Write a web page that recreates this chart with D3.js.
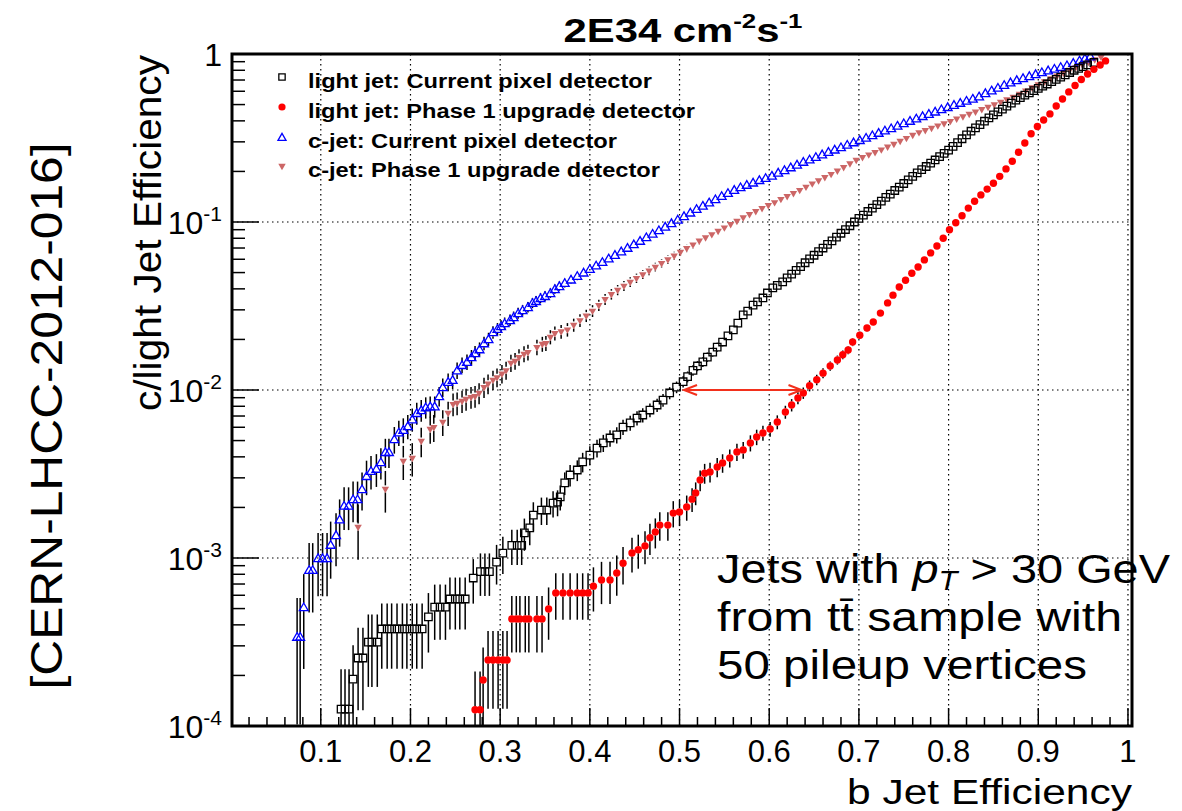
<!DOCTYPE html>
<html>
<head>
<meta charset="utf-8">
<script src="https://cdn.jsdelivr.net/npm/d3@7"></script>
<style>
  body { margin: 0; background: #fff; }
  text { font-family: "Liberation Sans", Arial, Helvetica, sans-serif; }
</style>
</head>
<body>
<script>
// b-efficiency vs mistag efficiency
const lightCurrent = [
  [0.1226,1.26e-4],[0.127,1.26e-4],[0.1315,1.26e-4],[0.136,1.9e-4],[0.1416,2.54e-4],[0.147,2.54e-4],
  [0.153,3.16e-4],[0.157,3.16e-4],[0.163,3.16e-4],[0.168,3.78e-4],[0.174,3.78e-4],[0.179,3.78e-4],
  [0.185,3.78e-4],[0.191,3.78e-4],[0.196,3.78e-4],[0.202,3.78e-4],[0.207,3.78e-4],[0.213,3.78e-4],
  [0.220,4.46e-4],[0.227,5.1e-4],[0.233,5.1e-4],[0.239,5.1e-4],[0.244,5.7e-4],[0.250,5.7e-4],
  [0.255,5.7e-4],[0.261,5.7e-4],[0.270,7.6e-4],[0.278,8.3e-4],[0.283,8.3e-4],[0.288,8.3e-4],
  [0.296,9.46e-4],[0.303,1.07e-3],[0.313,1.19e-3],[0.319,1.19e-3],[0.324,1.19e-3],[0.327,1.41e-3],
  [0.333,1.51e-3],[0.337,1.8e-3],[0.346,1.93e-3],[0.352,1.93e-3],[0.359,2.12e-3],[0.364,2.15e-3],
  [0.367,2.31e-3],[0.372,2.8e-3],[0.378,3.12e-3],[0.386,3.34e-3],[0.392,3.73e-3],[0.400,4.1e-3],
  [0.408,4.51e-3],[0.415,4.84e-3],[0.4225,5.18e-3],[0.430,5.4e-3],[0.437,6.02e-3],[0.445,6.37e-3],
  [0.4526,6.81e-3],[0.459,7.1e-3],[0.467,7.6e-3],[0.475,8.14e-3],[0.4816,8.7e-3],[0.489,9.6e-3],
  [0.4967,1.04e-2],[0.504,1.12e-2],[0.509,1.2e-2],[0.515,1.31e-2],[0.520,1.39e-2],[0.526,1.47e-2],
  [0.531,1.57e-2],[0.537,1.68e-2],[0.542,1.8e-2],[0.548,1.93e-2],[0.554,2.1e-2],[0.560,2.28e-2],
  [0.565,2.5e-2],[0.571,2.8e-2],[0.576,2.95e-2],[0.582,3.2e-2],[0.587,3.35e-2],[0.593,3.53e-2],
  [0.598,3.78e-2],[0.604,4.05e-2],[0.609,4.2e-2],[0.615,4.4e-2],[0.620,4.65e-2],[0.625,0.049],
  [0.630,0.0515],[0.635,0.0543],[0.640,0.0572],[0.645,0.0603],[0.650,0.0634],[0.655,0.0667],
  [0.660,0.07],[0.665,0.0735],[0.670,0.0773],[0.675,0.0813],[0.680,0.0857],[0.685,0.0902],
  [0.690,0.095],[0.695,0.100],[0.700,0.105],[0.705,0.110],[0.710,0.1155],[0.715,0.121],
  [0.720,0.127],[0.725,0.133],[0.730,0.14],[0.735,0.1466],[0.740,0.154],[0.745,0.1614],
  [0.750,0.1695],[0.755,0.178],[0.760,0.187],[0.765,0.196],[0.770,0.205],[0.775,0.214],
  [0.780,0.224],[0.785,0.234],[0.790,0.245],[0.795,0.256],[0.800,0.268],[0.805,0.282],
  [0.810,0.297],[0.815,0.313],[0.820,0.33],[0.825,0.347],[0.830,0.363],[0.835,0.38],
  [0.840,0.398],[0.845,0.417],[0.850,0.434],[0.855,0.452],[0.860,0.47],[0.865,0.49],
  [0.870,0.51],[0.875,0.531],[0.880,0.55],[0.885,0.569],[0.890,0.587],[0.895,0.605],
  [0.900,0.624],[0.905,0.643],[0.910,0.663],[0.915,0.684],[0.920,0.706],[0.925,0.728],
  [0.930,0.752],[0.935,0.776],[0.940,0.8],[0.945,0.822],[0.950,0.842],[0.955,0.861],
  [0.962,0.89]
];

const lightPhase1 = [
  [0.272,1.25e-4],[0.2776,1.25e-4],[0.281,1.88e-4],[0.2865,2.47e-4],[0.292,2.47e-4],[0.2977,2.47e-4],
  [0.303,2.47e-4],[0.3077,2.47e-4],[0.313,4.34e-4],[0.318,4.34e-4],[0.322,4.34e-4],[0.328,4.34e-4],
  [0.332,4.34e-4],[0.341,4.34e-4],[0.3467,4.34e-4],[0.354,4.97e-4],[0.362,6.2e-4],[0.370,6.2e-4],
  [0.378,6.2e-4],[0.386,6.2e-4],[0.392,6.2e-4],[0.398,6.2e-4],[0.404,6.8e-4],[0.413,7.4e-4],
  [0.4225,7.4e-4],[0.430,8.15e-4],[0.437,9.3e-4],[0.447,1.07e-3],[0.454,1.12e-3],[0.4615,1.18e-3],
  [0.467,1.32e-3],[0.473,1.43e-3],[0.478,1.57e-3],[0.487,1.57e-3],[0.493,1.85e-3],[0.500,1.88e-3],
  [0.508,2.01e-3],[0.514,2.24e-3],[0.518,2.44e-3],[0.523,2.91e-3],[0.528,3.2e-3],[0.534,3.25e-3],
  [0.542,3.48e-3],[0.548,3.68e-3],[0.556,3.94e-3],[0.564,4.28e-3],[0.571,4.4e-3],[0.579,4.84e-3],
  [0.586,5.25e-3],[0.593,5.55e-3],[0.601,5.86e-3],[0.609,6.45e-3],[0.618,7.4e-3],[0.625,8.14e-3],
  [0.632,8.96e-3],[0.638,9.6e-3],[0.645,1.06e-2],[0.653,1.15e-2],[0.660,1.26e-2],[0.668,1.39e-2],
  [0.676,1.51e-2],[0.682,1.62e-2],[0.688,1.73e-2],[0.693,1.93e-2],[0.701,2.12e-2],[0.709,2.34e-2],
  [0.716,2.54e-2],[0.724,2.87e-2],[0.732,3.3e-2],[0.738,3.67e-2],[0.745,4.1e-2],[0.752,4.5e-2],
  [0.759,4.95e-2],[0.766,5.4e-2],[0.773,5.95e-2],[0.780,6.55e-2],[0.787,7.2e-2],[0.794,8.0e-2],
  [0.801,9.0e-2],[0.808,0.099],[0.815,0.109],[0.822,0.121],[0.829,0.133],[0.836,0.145],
  [0.843,0.157],[0.850,0.17],[0.857,0.187],[0.864,0.207],[0.871,0.23],[0.878,0.26],
  [0.885,0.295],[0.892,0.335],[0.899,0.37],[0.906,0.405],[0.913,0.44],[0.920,0.49],
  [0.927,0.54],[0.934,0.595],[0.941,0.65],[0.948,0.705],[0.955,0.76],[0.962,0.81],
  [0.969,0.86],[0.975,0.91]
];

const cCurrent = [
  [0.0736,3.4e-4],[0.077,3.4e-4],[0.081,5.1e-4],[0.087,8.5e-4],[0.091,8.5e-4],[0.097,1.0e-3],
  [0.102,1.0e-3],[0.107,1.0e-3],[0.111,1.2e-3],[0.117,1.37e-3],[0.121,1.7e-3],[0.126,2.05e-3],
  [0.131,2.05e-3],[0.136,2.24e-3],[0.141,2.24e-3],[0.146,2.57e-3],[0.151,3.08e-3],[0.156,3.3e-3],
  [0.162,3.4e-3],[0.167,3.72e-3],[0.172,4.28e-3],[0.176,4.28e-3],[0.182,5.1e-3],[0.187,5.6e-3],
  [0.192,5.8e-3],[0.197,6.1e-3],[0.202,6.7e-3],[0.207,7.3e-3],[0.212,7.6e-3],[0.217,7.9e-3],
  [0.222,8.0e-3],[0.227,8.0e-3],[0.232,9.2e-3],[0.236,1.04e-2],[0.242,1.12e-2],[0.247,1.15e-2],
  [0.252,1.31e-2],[0.2575,1.41e-2],[0.263,1.47e-2],[0.268,1.57e-2],[0.272,1.66e-2],[0.277,1.75e-2],
  [0.282,1.9e-2],[0.287,2.01e-2],[0.292,2.21e-2],[0.297,2.31e-2],[0.301,2.40e-2],[0.305,2.5e-2],
  [0.311,2.61e-2],[0.315,2.72e-2],[0.320,2.87e-2],[0.325,2.99e-2],[0.331,3.12e-2],[0.336,3.3e-2],
  [0.340,3.39e-2],[0.345,3.53e-2],[0.350,3.63e-2],[0.356,3.78e-2],[0.361,3.99e-2],[0.366,4.16e-2],
  [0.372,0.0434],[0.379,0.0455],[0.386,0.0478],[0.393,0.0501],[0.400,0.0526],[0.407,0.0552],
  [0.414,0.0579],[0.421,0.0608],[0.428,0.0638],[0.435,0.067],[0.442,0.0703],[0.449,0.0738],
  [0.456,0.0774],[0.463,0.0813],[0.470,0.0853],[0.477,0.0895],[0.484,0.094],[0.491,0.0986],
  [0.498,0.1035],[0.505,0.1086],[0.512,0.114],[0.519,0.1197],[0.526,0.1253],[0.533,0.131],
  [0.540,0.1368],[0.547,0.143],[0.554,0.149],[0.561,0.1556],[0.568,0.1614],[0.575,0.1667],
  [0.582,0.172],[0.589,0.178],[0.596,0.183],[0.603,0.189],[0.610,0.197],[0.617,0.204],
  [0.624,0.212],[0.631,0.220],[0.638,0.2286],[0.645,0.236],[0.652,0.2443],[0.659,0.253],
  [0.666,0.262],[0.673,0.2704],[0.680,0.279],[0.687,0.289],[0.694,0.2985],[0.701,0.308],
  [0.708,0.318],[0.715,0.329],[0.722,0.34],[0.729,0.351],[0.736,0.362],[0.743,0.375],
  [0.750,0.388],[0.757,0.401],[0.764,0.414],[0.771,0.428],[0.778,0.441],[0.785,0.455],
  [0.792,0.47],[0.799,0.484],[0.806,0.499],[0.813,0.513],[0.820,0.528],[0.827,0.543],
  [0.834,0.56],[0.841,0.586],[0.848,0.608],[0.855,0.631],[0.862,0.655],[0.869,0.679],
  [0.876,0.70],[0.883,0.72],[0.890,0.74],[0.897,0.76],[0.904,0.78],[0.911,0.80],
  [0.918,0.818],[0.925,0.838],[0.932,0.859],[0.939,0.887],[0.946,0.916],[0.952,0.942],
  [0.958,0.97]
];

const cPhase1 = [
  [0.1416,1.53e-3],[0.172,2.58e-3],[0.192,3.78e-3],[0.202,3.94e-3],[0.212,4.97e-3],[0.222,5.86e-3],
  [0.226,6.0e-3],[0.236,6.45e-3],[0.242,7.3e-3],[0.2475,8.25e-3],[0.252,8.37e-3],[0.2575,8.6e-3],
  [0.262,8.84e-3],[0.2675,9.08e-3],[0.272,9.2e-3],[0.2765,9.6e-3],[0.282,1.04e-2],[0.2865,1.09e-2],
  [0.292,1.15e-2],[0.2965,1.19e-2],[0.302,1.25e-2],[0.3066,1.31e-2],[0.312,1.45e-2],[0.3166,1.49e-2],
  [0.321,1.57e-2],[0.3266,1.64e-2],[0.331,1.68e-2],[0.341,1.8e-2],[0.347,1.88e-2],[0.351,1.9e-2],
  [0.356,2.07e-2],[0.361,2.18e-2],[0.368,0.0223],[0.375,0.0229],[0.382,0.0244],[0.389,0.026],
  [0.396,0.0277],[0.403,0.0296],[0.410,0.032],[0.417,0.0347],[0.424,0.0372],[0.431,0.0394],
  [0.438,0.0417],[0.445,0.044],[0.452,0.0463],[0.459,0.0488],[0.466,0.0513],[0.473,0.054],
  [0.480,0.0569],[0.487,0.0598],[0.494,0.063],[0.501,0.0664],[0.508,0.0698],[0.515,0.0734],
  [0.522,0.0774],[0.529,0.0809],[0.536,0.0845],[0.543,0.0885],[0.550,0.0927],[0.557,0.097],
  [0.564,0.1016],[0.571,0.1064],[0.578,0.1112],[0.585,0.116],[0.592,0.121],[0.599,0.126],
  [0.606,0.131],[0.613,0.137],[0.620,0.1426],[0.627,0.1486],[0.634,0.155],[0.641,0.162],
  [0.648,0.1694],[0.655,0.177],[0.662,0.185],[0.669,0.193],[0.676,0.2023],[0.683,0.212],
  [0.690,0.223],[0.697,0.234],[0.704,0.243],[0.711,0.252],[0.718,0.2606],[0.725,0.27],
  [0.732,0.2805],[0.739,0.2917],[0.746,0.304],[0.753,0.316],[0.760,0.33],[0.767,0.342],
  [0.774,0.352],[0.781,0.363],[0.788,0.375],[0.795,0.386],[0.802,0.399],[0.809,0.412],
  [0.816,0.4256],[0.823,0.44],[0.830,0.454],[0.837,0.469],[0.844,0.484],[0.851,0.501],
  [0.858,0.519],[0.865,0.537],[0.872,0.555],[0.879,0.579],[0.886,0.605],[0.893,0.632],
  [0.900,0.659],[0.907,0.687],[0.914,0.715],[0.921,0.743],[0.928,0.773],[0.935,0.804],
  [0.942,0.836],[0.949,0.867],[0.956,0.897],[0.963,0.929],[0.970,0.962]
];

// approximate jet counts behind each curve (sets the binomial error bars)
const sampleSize = {lightCurrent: 15000, lightPhase1: 17000, cCurrent: 6000, cPhase1: 5000};

const xTicks = [0.1, 0.2, 0.3, 0.4, 0.5, 0.6, 0.7, 0.8, 0.9, 1];
const xTickLabels = ["0.1", "0.2", "0.3", "0.4", "0.5", "0.6", "0.7", "0.8", "0.9", "1"];
const yDecades = [1e-4, 1e-3, 1e-2, 1e-1, 1];
const yExponents = ["-4", "-3", "-2", "-1", ""];
const legendLabels = [
  "light jet: Current pixel detector",
  "light jet: Phase 1 upgrade detector",
  "c-jet: Current pixel detector",
  "c-jet: Phase 1 upgrade detector"
];
const arrowSpan = [0.505, 0.636];
const arrowLevel = 1e-2;

window.onload = () => {
    const width = 1182, height = 811;
    const frame = {left: 232, right: 1132, top: 54, bottom: 726};

    var x = d3.scaleLinear().domain([0.001, 1.0045]).range([frame.left, frame.right]);
    var y = d3.scaleLog().domain([1e-4, 1]).range([frame.bottom, frame.top]);

    var svg = d3.select("body").append("svg")
        .attr("width", width)
        .attr("height", height);

    svg.append("defs").append("clipPath")
        .attr("id", "plotclip")
        .append("rect")
        .attr("x", frame.left).attr("y", frame.top)
        .attr("width", frame.right - frame.left)
        .attr("height", frame.bottom - frame.top);

    // dotted grid
    svg.selectAll("line.vgrid")
        .data(xTicks)
        .enter().append("line")
        .attr("class", "vgrid")
        .attr("x1", d => x(d)).attr("x2", d => x(d))
        .attr("y1", frame.top).attr("y2", frame.bottom)
        .attr("stroke", "#000").attr("stroke-width", 1.2)
        .attr("stroke-dasharray", "1.5,3.5");

    svg.selectAll("line.hgrid")
        .data(yDecades.slice(1, 4))
        .enter().append("line")
        .attr("class", "hgrid")
        .attr("x1", frame.left).attr("x2", frame.right)
        .attr("y1", d => y(d)).attr("y2", d => y(d))
        .attr("stroke", "#000").attr("stroke-width", 1.2)
        .attr("stroke-dasharray", "1.5,3.5");

    // ticks
    const xMinor = d3.range(1, 51).map(i => i * 0.02);
    svg.selectAll("line.xtick")
        .data(xMinor)
        .enter().append("line")
        .attr("class", "xtick")
        .attr("x1", d => x(d)).attr("x2", d => x(d))
        .attr("y1", frame.bottom)
        .attr("y2", (d, i) => frame.bottom - ((i + 1) % 5 === 0 ? 18 : 9))
        .attr("stroke", "#000").attr("stroke-width", 1.5);

    const yMinor = [];
    [1e-4, 1e-3, 1e-2, 1e-1].forEach(dec => {
        for (let k = 2; k <= 9; k++) yMinor.push(dec * k);
    });
    svg.selectAll("line.ytick")
        .data(yMinor)
        .enter().append("line")
        .attr("class", "ytick")
        .attr("x1", frame.left).attr("x2", frame.left + 13)
        .attr("y1", d => y(d)).attr("y2", d => y(d))
        .attr("stroke", "#000").attr("stroke-width", 1.5);
    svg.selectAll("line.ymajor")
        .data(yDecades)
        .enter().append("line")
        .attr("class", "ymajor")
        .attr("x1", frame.left).attr("x2", frame.left + 27)
        .attr("y1", d => y(d)).attr("y2", d => y(d))
        .attr("stroke", "#000").attr("stroke-width", 1.5);

    // tick labels
    svg.selectAll("text.xlab")
        .data(xTicks)
        .enter().append("text")
        .attr("class", "xlab")
        .attr("x", d => x(d))
        .attr("y", 762)
        .attr("text-anchor", "middle")
        .attr("font-size", 31)
        .text((d, i) => xTickLabels[i]);

    var ylab = svg.selectAll("text.ylab")
        .data(yDecades)
        .enter().append("text")
        .attr("class", "ylab")
        .attr("x", 222)
        .attr("y", d => y(d) + 12)
        .attr("text-anchor", "end")
        .attr("font-size", 32);
    ylab.append("tspan").text(d => d === 1 ? "1" : "10");
    ylab.append("tspan")
        .attr("font-size", 21)
        .attr("dy", -13)
        .text((d, i) => yExponents[i]);

    // error bars + markers
    const plot = svg.append("g").attr("clip-path", "url(#plotclip)");

    function errorBars(data, N, gap) {
        const bars = data.map(([bx, by]) => {
            const e = Math.sqrt(by * (1 - by) / N);
            const yc = y(by);
            const yt = y(by + e);
            const yb = by - e > 1e-6 ? y(by - e) : frame.bottom + 20;
            return {px: x(bx), yc: yc, yt: yt, yb: yb};
        });
        plot.selectAll(null)
            .data(bars.filter(b => b.yc - b.yt > gap))
            .enter().append("line")
            .attr("x1", b => b.px).attr("x2", b => b.px)
            .attr("y1", b => b.yc - gap).attr("y2", b => b.yt)
            .attr("stroke", "#000").attr("stroke-width", 1.5);
        plot.selectAll(null)
            .data(bars.filter(b => b.yb - b.yc > gap))
            .enter().append("line")
            .attr("x1", b => b.px).attr("x2", b => b.px)
            .attr("y1", b => b.yc + gap).attr("y2", b => b.yb)
            .attr("stroke", "#000").attr("stroke-width", 1.5);
    }

    errorBars(lightCurrent, sampleSize.lightCurrent, 4);
    errorBars(lightPhase1, sampleSize.lightPhase1, 3.5);
    errorBars(cCurrent, sampleSize.cCurrent, 4);
    errorBars(cPhase1, sampleSize.cPhase1, 3.5);

    const squareSym = d3.symbol().type(d3.symbolSquare).size(56);
    const triSym = d3.symbol().type(d3.symbolTriangle).size(34);
    const downSym = d3.symbol().type(d3.symbolTriangle).size(24);

    plot.selectAll("path.pinkTri")
        .data(cPhase1)
        .enter().append("path")
        .attr("d", downSym)
        .attr("transform", d => "translate(" + x(d[0]) + "," + y(d[1]) + ") rotate(180)")
        .attr("fill", "#cc6666");

    plot.selectAll("path.blueTri")
        .data(cCurrent)
        .enter().append("path")
        .attr("d", triSym)
        .attr("transform", d => "translate(" + x(d[0]) + "," + (y(d[1]) + 1) + ")")
        .attr("fill", "none")
        .attr("stroke", "#0000ff")
        .attr("stroke-width", 1.3);

    plot.selectAll("path.blackSq")
        .data(lightCurrent)
        .enter().append("path")
        .attr("d", squareSym)
        .attr("transform", d => "translate(" + x(d[0]) + "," + y(d[1]) + ")")
        .attr("fill", "none")
        .attr("stroke", "#000")
        .attr("stroke-width", 1.3);

    plot.selectAll("circle.red")
        .data(lightPhase1)
        .enter().append("circle")
        .attr("cx", d => x(d[0]))
        .attr("cy", d => y(d[1]))
        .attr("r", 3.7)
        .attr("fill", "#ff0000");

    // frame
    svg.append("rect")
        .attr("x", frame.left).attr("y", frame.top)
        .attr("width", frame.right - frame.left)
        .attr("height", frame.bottom - frame.top)
        .attr("fill", "none")
        .attr("stroke", "#000")
        .attr("stroke-width", 3);

    // arrow between the two light-jet curves
    const ax1 = x(arrowSpan[0]), ax2 = x(arrowSpan[1]), ay = y(arrowLevel);
    const arrowCol = "#f2301c";
    svg.append("line")
        .attr("x1", ax1).attr("x2", ax2)
        .attr("y1", ay).attr("y2", ay)
        .attr("stroke", arrowCol).attr("stroke-width", 2);
    svg.append("polyline")
        .attr("points", [[ax1 + 13, ay - 5], [ax1, ay], [ax1 + 13, ay + 5]].join(" "))
        .attr("fill", "none").attr("stroke", arrowCol).attr("stroke-width", 2);
    svg.append("polyline")
        .attr("points", [[ax2 - 13, ay - 5], [ax2, ay], [ax2 - 13, ay + 5]].join(" "))
        .attr("fill", "none").attr("stroke", arrowCol).attr("stroke-width", 2);

    // legend
    const legendY = [77, 107, 137, 166];
    svg.append("path")
        .attr("d", squareSym.size(40)())
        .attr("transform", "translate(282," + legendY[0] + ")")
        .attr("fill", "none").attr("stroke", "#000").attr("stroke-width", 1.3);
    svg.append("circle")
        .attr("cx", 282).attr("cy", legendY[1]).attr("r", 3.6)
        .attr("fill", "#ff0000");
    svg.append("path")
        .attr("d", triSym.size(28)())
        .attr("transform", "translate(282," + (legendY[2] + 1) + ")")
        .attr("fill", "none").attr("stroke", "#0000ff").attr("stroke-width", 1.3);
    svg.append("path")
        .attr("d", downSym())
        .attr("transform", "translate(282," + legendY[3] + ") rotate(180)")
        .attr("fill", "#cc6666");

    const legendWidths = [344, 387, 309, 352];
    svg.selectAll("text.leg")
        .data(legendLabels)
        .enter().append("text")
        .attr("class", "leg")
        .attr("x", 308)
        .attr("y", (d, i) => legendY[i] + 11)
        .attr("font-size", 20)
        .attr("font-weight", "bold")
        .attr("textLength", (d, i) => legendWidths[i])
        .attr("lengthAdjust", "spacingAndGlyphs")
        .text(d => d);

    // title
    var title = svg.append("text")
        .attr("x", 683)
        .attr("y", 42)
        .attr("text-anchor", "middle")
        .attr("font-size", 34)
        .attr("font-weight", "bold")
        .attr("textLength", 239)
        .attr("lengthAdjust", "spacingAndGlyphs");
    title.append("tspan").text("2E34 cm");
    title.append("tspan").attr("font-size", 21).attr("dy", -14).text("-2");
    title.append("tspan").attr("dy", 14).text("s");
    title.append("tspan").attr("font-size", 21).attr("dy", -14).text("-1");

    // axis titles
    svg.append("text")
        .attr("x", 1132)
        .attr("y", 804)
        .attr("text-anchor", "end")
        .attr("font-size", 35)
        .attr("textLength", 285)
        .attr("lengthAdjust", "spacingAndGlyphs")
        .text("b Jet Efficiency");

    svg.append("text")
        .attr("transform", "translate(161,55) rotate(-90)")
        .attr("text-anchor", "end")
        .attr("font-size", 39)
        .attr("textLength", 356)
        .attr("lengthAdjust", "spacingAndGlyphs")
        .text("c/light Jet Efficiency");

    svg.append("text")
        .attr("transform", "translate(62,416) rotate(-90)")
        .attr("text-anchor", "middle")
        .attr("font-size", 44)
        .attr("textLength", 547)
        .attr("lengthAdjust", "spacingAndGlyphs")
        .text("[CERN-LHCC-2012-016]");

    // annotation
    var note1 = svg.append("text")
        .attr("x", 717).attr("y", 583)
        .attr("font-size", 41)
        .attr("textLength", 453)
        .attr("lengthAdjust", "spacingAndGlyphs");
    note1.append("tspan").text("Jets with ");
    note1.append("tspan").attr("font-style", "italic").text("p");
    note1.append("tspan").attr("font-style", "italic").attr("font-size", 27).attr("dy", 7).text("T");
    note1.append("tspan").attr("dy", -7).text(" > 30 GeV");

    svg.append("text")
        .attr("x", 717).attr("y", 631)
        .attr("font-size", 41)
        .attr("textLength", 405)
        .attr("lengthAdjust", "spacingAndGlyphs")
        .text("from tt\u0304 sample with");

    svg.append("text")
        .attr("x", 717).attr("y", 679)
        .attr("font-size", 41)
        .attr("textLength", 370)
        .attr("lengthAdjust", "spacingAndGlyphs")
        .text("50 pileup vertices");
}
</script>
</body>
</html>
